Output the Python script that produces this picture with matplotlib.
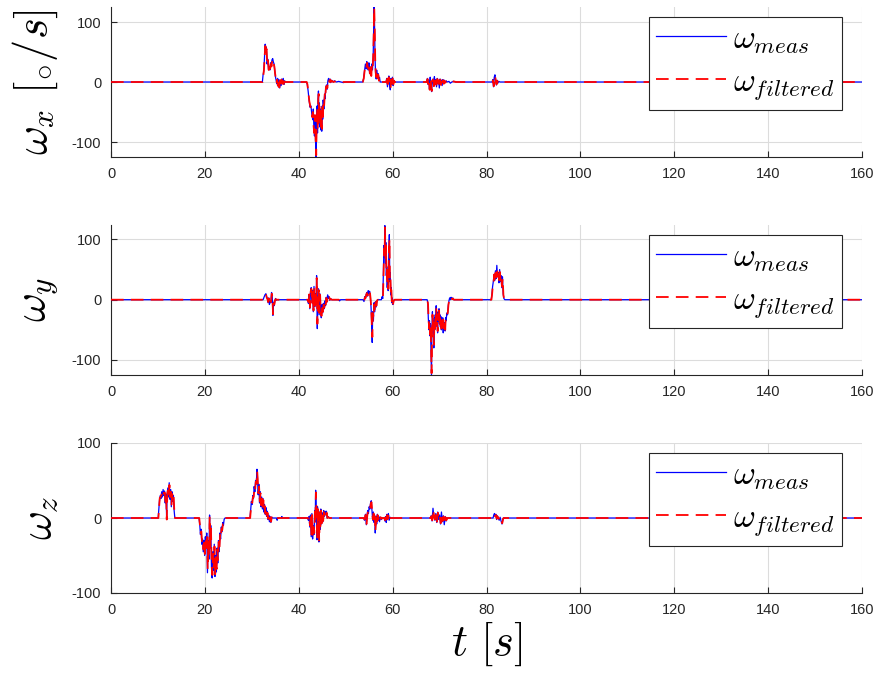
import numpy as np
import matplotlib
matplotlib.use("Agg")
import matplotlib.pyplot as plt

# Angular rate samples (t [s], value [deg/s]) for each body axis
wx_meas = [(0,0),(32.25,0),(32.4,12),(32.55,18),(32.7,40),(32.85,63),(32.95,50),(33.1,58),(33.25,30),(33.4,38),(33.55,22),(33.7,26),(33.85,20),(34.0,32),(34.15,28),(34.3,37),(34.45,39),(34.6,33),(34.75,30),(34.9,18),(35.05,8),(35.2,2),(35.35,-3),(35.5,6),(35.65,-8),(35.8,4),(35.95,-10),(36.1,3),(36.25,-6),(36.4,5),(36.55,-2),(36.7,6),(36.85,-4),(37.0,2),(37.2,0),
           (41.6,0),(41.8,-3),(42.0,-15),(42.2,-30),(42.4,-42),(42.6,-40),(42.8,-55),(43.0,-63),(43.1,-45),(43.2,-70),(43.35,-90),(43.5,-60),(43.6,-105),(43.7,-125),(43.8,-70),(43.9,-40),(44.0,-85),(44.1,-30),(44.2,-15),(44.3,-60),(44.4,-35),(44.5,-75),(44.6,-45),(44.7,-80),(44.8,-50),(44.9,-82),(45.0,-40),(45.1,-62),(45.2,-30),(45.35,-45),(45.5,-22),(45.6,-28),(45.75,-10),(45.9,-5),(46.05,-12),(46.2,2),(46.35,6),(46.5,1),(46.65,5),(46.8,-1),(47.0,3),(47.3,0),(47.6,2),(48.0,0),(48.5,1),(49.0,0),(49.5,-1),(50.0,0),
           (53.6,0),(53.8,5),(54.0,18),(54.2,30),(54.35,22),(54.5,34),(54.65,28),(54.8,20),(54.95,32),(55.1,15),(55.25,25),(55.4,12),(55.55,30),(55.7,20),(55.85,40),(55.95,80),(56.05,125),(56.15,95),(56.25,40),(56.35,18),(56.5,5),(56.6,20),(56.75,8),(56.9,14),(57.05,3),(57.2,8),(57.35,0),
           (58.6,0),(58.75,6),(58.9,-8),(59.05,4),(59.2,10),(59.35,-5),(59.5,-13),(59.65,6),(59.8,-4),(59.95,8),(60.1,-6),(60.25,3),(60.4,0),
           (67.2,0),(67.4,6),(67.55,-4),(67.7,3),(67.85,-12),(68.0,8),(68.15,-3),(68.3,-16),(68.45,2),(68.6,5),(68.75,-6),(68.9,9),(69.05,-2),(69.2,4),(69.35,-8),(69.5,6),(69.65,-3),(69.8,2),(69.95,-10),(70.1,5),(70.25,-4),(70.4,3),(70.55,-6),(70.7,4),(70.85,-2),(71.0,3),(71.2,-1),(71.4,2),(71.6,0),(72.0,1),(72.3,-2),(72.6,0),(73.0,1),(73.4,0),
           (81.2,0),(81.35,4),(81.5,-8),(81.65,8),(81.8,12),(81.95,2),(82.1,-5),(82.25,3),(82.4,-2),(82.6,1),(82.9,0),(160,0)]

wx_filt = [(0,0),(32.3,0),(32.45,10),(32.6,22),(32.75,45),(32.9,60),(33.0,48),(33.15,55),(33.3,28),(33.45,36),(33.6,20),(33.75,28),(33.9,22),(34.05,30),(34.2,26),(34.35,36),(34.5,38),(34.65,31),(34.8,26),(34.95,15),(35.1,6),(35.25,-2),(35.4,4),(35.55,-6),(35.7,6),(35.85,-9),(36.0,2),(36.15,-7),(36.3,4),(36.45,-3),(36.6,5),(36.75,-5),(36.9,1),(37.1,0),
           (41.7,0),(41.85,-4),(42.05,-18),(42.25,-32),(42.45,-40),(42.65,-45),(42.85,-58),(43.0,-50),(43.15,-72),(43.3,-85),(43.45,-55),(43.6,-100),(43.72,-122),(43.82,-65),(43.95,-45),(44.05,-80),(44.15,-28),(44.25,-20),(44.35,-65),(44.45,-38),(44.55,-70),(44.65,-48),(44.75,-75),(44.85,-55),(44.95,-78),(45.05,-42),(45.15,-58),(45.25,-33),(45.4,-40),(45.55,-20),(45.65,-26),(45.8,-8),(45.95,-7),(46.1,-10),(46.25,3),(46.4,5),(46.55,0),(46.7,4),(46.85,0),(47.05,2),(47.4,0),(47.7,1),(48.1,0),(48.6,1),(49.1,0),(50,0),
           (53.65,0),(53.85,6),(54.05,20),(54.25,28),(54.4,24),(54.55,32),(54.7,26),(54.85,22),(55.0,30),(55.15,14),(55.3,26),(55.45,10),(55.6,28),(55.75,22),(55.9,50),(56.0,95),(56.08,124),(56.2,85),(56.3,35),(56.4,15),(56.55,8),(56.65,18),(56.8,6),(56.95,12),(57.1,2),(57.25,6),(57.4,0),
           (58.65,0),(58.8,5),(58.95,-10),(59.1,6),(59.25,8),(59.4,-7),(59.55,-11),(59.7,4),(59.85,-5),(60.0,6),(60.15,-4),(60.3,2),(60.45,0),
           (67.25,0),(67.45,5),(67.6,-3),(67.75,4),(67.9,-13),(68.05,6),(68.2,-5),(68.35,-15),(68.5,3),(68.65,4),(68.8,-7),(68.95,7),(69.1,-3),(69.25,3),(69.4,-9),(69.55,5),(69.7,-2),(69.85,1),(70.0,-9),(70.15,4),(70.3,-5),(70.45,2),(70.6,-5),(70.75,3),(70.9,-3),(71.05,2),(71.25,-1),(71.45,1),(71.65,0),(72.05,1),(72.35,-1),(72.65,0),(73.0,1),(73.5,0),
           (81.25,0),(81.4,3),(81.55,-7),(81.7,7),(81.85,10),(82.0,1),(82.15,-4),(82.3,2),(82.45,-1),(82.65,1),(83.0,0),(160,0)]

wy_meas = [(0,0),(32.4,0),(32.6,4),(32.8,8),(33.0,10),(33.15,5),(33.3,2),(33.45,-5),(33.6,3),(33.75,-8),(33.9,-3),(34.05,-5),(34.2,12),(34.35,6),(34.5,-26),(34.6,-4),(34.75,-10),(34.9,-2),(35.05,2),(35.2,-1),(35.35,0),
           (41.9,0),(42.05,-6),(42.2,8),(42.35,-15),(42.5,12),(42.65,20),(42.8,-5),(42.95,15),(43.1,-20),(43.25,22),(43.4,-12),(43.55,10),(43.7,-8),(43.8,40),(43.95,-48),(44.05,-10),(44.2,18),(44.35,-25),(44.5,10),(44.65,-18),(44.8,-30),(44.95,-8),(45.1,-22),(45.25,-6),(45.4,-15),(45.55,-2),(45.7,-10),(45.85,4),(46.0,-4),(46.15,8),(46.3,2),(46.45,5),(46.6,-1),(46.8,2),(47.0,0),(48.5,0),(48.7,-2),(48.9,0),
           (53.7,0),(53.9,-3),(54.05,5),(54.2,2),(54.35,8),(54.5,12),(54.65,6),(54.8,15),(54.95,10),(55.1,14),(55.25,4),(55.4,-12),(55.55,-40),(55.65,-71),(55.75,-20),(55.9,-35),(56.05,-5),(56.2,-20),(56.35,-3),(56.5,-12),(56.65,-2),(56.85,0),
           (57.6,0),(57.75,5),(57.9,2),(58.05,50),(58.15,90),(58.25,70),(58.35,123),(58.45,60),(58.55,95),(58.65,40),(58.75,55),(58.85,20),(58.95,40),(59.05,15),(59.15,60),(59.3,108),(59.4,30),(59.5,45),(59.6,8),(59.7,20),(59.8,-5),(59.9,3),(60.05,-8),(60.2,-2),(60.4,0),
           (67.35,0),(67.5,-5),(67.6,-30),(67.75,-50),(67.85,-35),(67.95,-60),(68.05,-40),(68.15,-75),(68.28,-125),(68.38,-45),(68.48,-20),(68.58,-55),(68.68,-35),(68.78,-80),(68.88,-30),(68.98,-50),(69.08,-25),(69.18,-45),(69.28,-10),(69.38,-40),(69.48,-30),(69.58,-55),(69.68,-20),(69.78,-35),(69.88,-15),(69.98,-40),(70.08,-25),(70.18,-45),(70.28,-28),(70.38,-50),(70.48,-35),(70.58,-48),(70.68,-30),(70.78,-55),(70.88,-40),(70.98,-50),(71.08,-38),(71.18,-52),(71.28,-30),(71.4,-35),(71.55,-22),(71.7,-25),(71.85,-10),(72.0,-2),(72.15,3),(72.3,0),(72.45,4),(72.6,1),(72.8,3),(73.0,0),
           (81.0,0),(81.15,8),(81.3,22),(81.45,30),(81.6,40),(81.75,32),(81.9,48),(82.05,35),(82.2,57),(82.35,38),(82.5,45),(82.65,28),(82.8,50),(82.95,30),(83.1,40),(83.25,20),(83.4,38),(83.55,10),(83.7,2),(83.9,0),(160,0)]

wy_filt = [(0,0),(32.45,0),(32.65,5),(32.85,9),(33.05,8),(33.2,3),(33.35,1),(33.5,-4),(33.65,2),(33.8,-7),(33.95,-2),(34.1,-4),(34.25,10),(34.4,4),(34.52,-24),(34.65,-6),(34.8,-8),(34.95,-1),(35.1,1),(35.3,0),
           (41.95,0),(42.1,-4),(42.25,9),(42.4,-13),(42.55,14),(42.7,18),(42.85,-7),(43.0,13),(43.15,-18),(43.3,20),(43.45,-10),(43.6,8),(43.72,-10),(43.83,36),(43.97,-40),(44.1,-12),(44.25,16),(44.4,-22),(44.55,8),(44.7,-20),(44.85,-27),(45.0,-10),(45.15,-20),(45.3,-8),(45.45,-13),(45.6,-3),(45.75,-8),(45.9,3),(46.05,-3),(46.2,7),(46.35,3),(46.5,4),(46.65,0),(46.85,1),(47.05,0),(48.55,0),(48.75,-2),(48.95,0),
           (53.75,0),(53.95,-2),(54.1,4),(54.25,3),(54.4,9),(54.55,11),(54.7,7),(54.85,14),(55.0,11),(55.15,13),(55.3,2),(55.45,-15),(55.58,-45),(55.68,-62),(55.8,-22),(55.95,-30),(56.1,-8),(56.25,-18),(56.4,-4),(56.55,-10),(56.7,-1),(56.9,0),
           (57.65,0),(57.8,4),(57.95,6),(58.1,55),(58.2,85),(58.3,75),(58.38,120),(58.48,65),(58.58,90),(58.68,45),(58.78,50),(58.88,25),(58.98,45),(59.08,18),(59.2,70),(59.33,100),(59.43,35),(59.53,40),(59.63,10),(59.73,18),(59.83,-3),(59.95,2),(60.1,-7),(60.25,-1),(60.45,0),
           (67.4,0),(67.55,-8),(67.65,-32),(67.8,-48),(67.9,-38),(68.0,-58),(68.1,-42),(68.2,-72),(68.3,-122),(68.4,-50),(68.5,-25),(68.6,-52),(68.7,-38),(68.8,-75),(68.9,-35),(69.0,-48),(69.1,-28),(69.2,-42),(69.3,-14),(69.4,-38),(69.5,-33),(69.6,-52),(69.7,-24),(69.8,-33),(69.9,-18),(70.0,-38),(70.1,-28),(70.2,-42),(70.3,-30),(70.4,-48),(70.5,-36),(70.6,-45),(70.7,-33),(70.8,-52),(70.9,-42),(71.0,-48),(71.1,-36),(71.2,-50),(71.3,-32),(71.45,-33),(71.6,-24),(71.75,-22),(71.9,-8),(72.05,-1),(72.2,2),(72.35,0),(72.5,3),(72.65,1),(72.85,2),(73.05,0),
           (81.05,0),(81.2,10),(81.35,24),(81.5,28),(81.65,42),(81.8,30),(81.95,45),(82.1,37),(82.25,52),(82.4,40),(82.55,42),(82.7,30),(82.85,46),(83.0,32),(83.15,38),(83.3,22),(83.45,35),(83.6,8),(83.75,1),(83.95,0),(160,0)]

wz_meas = [(0,0),(10.05,0),(10.2,12),(10.35,25),(10.5,30),(10.65,26),(10.8,35),(10.95,28),(11.1,38),(11.25,30),(11.4,36),(11.55,20),(11.7,32),(11.85,2),(11.95,30),(12.1,40),(12.25,28),(12.4,47),(12.55,25),(12.7,38),(12.85,15),(13.0,35),(13.15,22),(13.3,30),(13.45,10),(13.6,0),
           (18.75,0),(18.9,-8),(19.05,-22),(19.2,-15),(19.35,-35),(19.5,-28),(19.65,-45),(19.8,-30),(19.95,-50),(20.1,-25),(20.25,-40),(20.4,-20),(20.55,-73),(20.7,-30),(20.85,-55),(21.0,4),(21.1,-40),(21.25,-10),(21.4,-65),(21.55,-80),(21.7,-45),(21.85,-70),(22.0,-35),(22.15,-78),(22.3,-50),(22.45,-72),(22.6,-40),(22.75,-60),(22.9,-30),(23.05,-45),(23.2,-20),(23.35,-28),(23.5,-12),(23.65,-18),(23.8,-6),(23.95,-10),(24.1,-2),(24.3,0),
           (29.6,0),(29.75,10),(29.9,22),(30.05,18),(30.2,30),(30.35,26),(30.5,42),(30.65,35),(30.8,50),(30.95,45),(31.1,65),(31.2,55),(31.35,31),(31.5,45),(31.65,20),(31.8,35),(31.95,15),(32.1,28),(32.25,12),(32.4,26),(32.55,8),(32.7,18),(32.85,5),(33.0,14),(33.15,2),(33.3,9),(33.45,-2),(33.6,4),(33.75,-5),(33.9,2),(34.05,-6),(34.2,1),(34.4,0),(35.3,0),(35.4,-3),(35.5,0),(36.3,0),(36.4,2),(36.5,0),
           (41.9,0),(42.05,-3),(42.2,2),(42.35,-12),(42.5,4),(42.65,-25),(42.8,6),(42.95,-28),(43.1,-10),(43.25,-22),(43.4,10),(43.5,-5),(43.6,37),(43.7,20),(43.8,-10),(43.9,-29),(44.0,15),(44.1,-20),(44.2,10),(44.3,-32),(44.4,-5),(44.5,8),(44.6,-15),(44.7,12),(44.85,-8),(45.0,7),(45.15,-5),(45.3,10),(45.45,2),(45.6,9),(45.75,4),(45.9,9),(46.05,0),(46.25,2),(46.5,0),
           (53.8,0),(54.0,-3),(54.2,5),(54.4,-9),(54.55,4),(54.7,10),(54.85,6),(55.0,15),(55.15,12),(55.3,20),(55.45,23),(55.6,10),(55.75,-3),(55.9,8),(56.05,-6),(56.2,3),(56.3,-20),(56.45,2),(56.6,-8),(56.75,5),(56.9,-3),(57.05,2),(57.2,-5),(57.4,1),(57.6,-2),(57.8,0),(58.2,0),(58.35,-4),(58.5,2),(58.65,-6),(58.8,5),(58.95,-1),(59.1,6),(59.25,-3),(59.45,1),(59.7,0),
           (68.0,0),(68.2,3),(68.4,-4),(68.6,13),(68.8,2),(69.0,-3),(69.2,6),(69.4,-6),(69.6,8),(69.8,-2),(70.0,4),(70.2,-8),(70.4,8),(70.6,-5),(70.8,3),(71.0,-9),(71.2,2),(71.4,-4),(71.6,0),
           (81.4,0),(81.55,4),(81.7,6),(81.85,2),(82.0,5),(82.15,-2),(82.3,3),(82.5,0),(82.7,-3),(82.9,1),(83.1,-4),(83.3,-8),(83.5,-2),(83.6,0),(160,0)]

wz_filt = [(0,0),(10.1,0),(10.25,15),(10.4,27),(10.55,28),(10.7,30),(10.85,33),(11.0,30),(11.15,35),(11.3,32),(11.45,34),(11.6,22),(11.75,30),(11.88,-2),(12.0,33),(12.15,38),(12.3,30),(12.45,44),(12.6,28),(12.75,35),(12.9,18),(13.05,32),(13.2,24),(13.35,28),(13.5,8),(13.65,0),
           (18.8,0),(18.95,-10),(19.1,-20),(19.25,-18),(19.4,-33),(19.55,-30),(19.7,-42),(19.85,-33),(20.0,-48),(20.15,-28),(20.3,-38),(20.45,-22),(20.6,-68),(20.75,-32),(20.9,-50),(21.02,2),(21.15,-38),(21.3,-14),(21.45,-62),(21.6,-76),(21.75,-48),(21.9,-66),(22.05,-38),(22.2,-75),(22.35,-52),(22.5,-68),(22.65,-42),(22.8,-56),(22.95,-32),(23.1,-42),(23.25,-22),(23.4,-26),(23.55,-14),(23.7,-16),(23.85,-8),(24.0,-8),(24.15,-1),(24.35,0),
           (29.65,0),(29.8,12),(29.95,20),(30.1,20),(30.25,28),(30.4,28),(30.55,40),(30.7,37),(30.85,48),(31.0,47),(31.15,62),(31.25,52),(31.4,33),(31.55,42),(31.7,22),(31.85,33),(32.0,17),(32.15,26),(32.3,14),(32.45,24),(32.6,10),(32.75,16),(32.9,6),(33.05,12),(33.2,3),(33.35,7),(33.5,-1),(33.65,3),(33.8,-4),(33.95,1),(34.1,-5),(34.25,1),(34.45,0),(35.35,0),(35.45,-2),(35.55,0),
           (41.95,0),(42.1,-2),(42.25,1),(42.4,-10),(42.55,3),(42.7,-22),(42.85,4),(43.0,-25),(43.15,-12),(43.3,-20),(43.45,8),(43.55,-3),(43.65,34),(43.75,18),(43.85,-12),(43.95,-26),(44.05,12),(44.15,-18),(44.25,8),(44.35,-30),(44.45,-6),(44.55,6),(44.65,-13),(44.75,10),(44.9,-7),(45.05,5),(45.2,-4),(45.35,8),(45.5,3),(45.65,8),(45.8,4),(45.95,7),(46.1,0),(46.3,1),(46.55,0),
           (53.85,0),(54.05,-2),(54.25,4),(54.45,-8),(54.6,3),(54.75,9),(54.9,8),(55.05,14),(55.2,13),(55.35,19),(55.5,21),(55.65,8),(55.8,-2),(55.95,6),(56.1,-5),(56.22,2),(56.33,-18),(56.5,1),(56.65,-7),(56.8,4),(56.95,-2),(57.1,1),(57.25,-4),(57.45,1),(57.65,-1),(57.85,0),(58.25,0),(58.4,-3),(58.55,2),(58.7,-5),(58.85,4),(59.0,-1),(59.15,5),(59.3,-2),(59.5,0),
           (68.05,0),(68.25,2),(68.45,-3),(68.65,11),(68.85,1),(69.05,-2),(69.25,5),(69.45,-5),(69.65,7),(69.85,-1),(70.05,3),(70.25,-7),(70.45,6),(70.65,-4),(70.85,2),(71.05,-8),(71.25,1),(71.45,-3),(71.65,0),
           (81.45,0),(81.6,3),(81.75,5),(81.9,2),(82.05,4),(82.2,-1),(82.35,2),(82.55,0),(82.75,-2),(82.95,1),(83.15,-3),(83.35,-7),(83.55,-1),(83.65,0),(160,0)]

x_ticks = [0, 20, 40, 60, 80, 100, 120, 140, 160]
y_ticks = [-100, 0, 100]
y_labels = [r'$\omega_x~[{}_{\circ}/s]$', r'$\omega_y$', r'$\omega_z$']
y_limits = [(-125, 125), (-125, 124), (-100, 100)]
legend_labels = [r'$\omega_{meas}$', r'$\omega_{filtered}$']

plt.rcParams['font.family'] = ['Liberation Sans', 'DejaVu Sans']
plt.rcParams['mathtext.fontset'] = 'cm'
plt.rcParams['axes.unicode_minus'] = False

fig = plt.figure(figsize=(8.81, 6.76), dpi=100)
W, H = 881, 676
left, right = 111, 862
panels = [(7, 157), (225, 375), (443, 593)]

ink = '#262626'
series = [(wx_meas, wx_filt), (wy_meas, wy_filt), (wz_meas, wz_filt)]

for i, ((top, bot), (meas, filt)) in enumerate(zip(panels, series)):
    ax = fig.add_axes([left / W, 1 - bot / H, (right - left) / W, (bot - top) / H])
    tm, vm = zip(*meas)
    tf, vf = zip(*filt)
    ax.plot(tm, vm, color='#0000ff', lw=0.9, label=legend_labels[0], zorder=3)
    ax.plot(tf, vf, color='#ff0000', lw=1.3, ls=(0, (7, 4)), label=legend_labels[1], zorder=4)
    ax.set_xlim(0, 160)
    ax.set_ylim(*y_limits[i])
    ax.set_xticks(x_ticks)
    ax.set_yticks(y_ticks)
    ax.set_xticklabels([str(v) for v in x_ticks])
    ax.set_yticklabels([str(v) for v in y_ticks])
    ax.grid(True, color='#dcdcdc', lw=0.8)
    ax.set_axisbelow(True)
    for s in ('top', 'right'):
        ax.spines[s].set_visible(False)
    for s in ('left', 'bottom'):
        ax.spines[s].set_color(ink)
        ax.spines[s].set_linewidth(0.8)
    ax.tick_params(direction='in', length=4, width=0.8, colors=ink,
                   labelsize=10.5, pad=7, top=False, right=False)
    ax.set_ylabel(y_labels[i], fontsize=32, color='black')
    ax.yaxis.set_label_coords(-0.068, 0.5)
    leg = ax.legend(loc='upper right', bbox_to_anchor=(0.973, 0.935),
                    fontsize=24, frameon=True, fancybox=False,
                    handlelength=2.1, handletextpad=0.2, labelspacing=0.33,
                    borderpad=0.22, borderaxespad=0)
    leg.get_frame().set_edgecolor(ink)
    leg.get_frame().set_linewidth(0.8)
    leg.get_frame().set_alpha(1)
    if i == 2:
        ax.set_xlabel(r'$t~[s]$', fontsize=32, color='black', labelpad=2)

fig.savefig('out.png', dpi=100)
